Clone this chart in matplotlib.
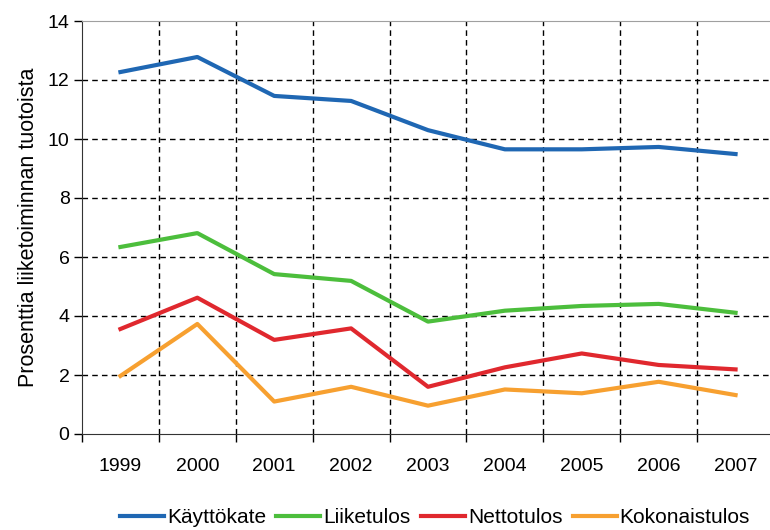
import matplotlib.pyplot as plt
import numpy as np

plt.rcParams['font.family'] = ['Liberation Sans', 'DejaVu Sans']

years = ['1999', '2000', '2001', '2002', '2003', '2004', '2005', '2006', '2007']
kayttokate = [12.27, 12.78, 11.46, 11.29, 10.30, 9.65, 9.65, 9.73, 9.49]
liiketulos = [6.34, 6.81, 5.42, 5.19, 3.81, 4.18, 4.34, 4.41, 4.11]
nettotulos = [3.56, 4.62, 3.19, 3.58, 1.60, 2.26, 2.73, 2.34, 2.19]
kokonaistulos = [1.97, 3.73, 1.10, 1.60, 0.96, 1.51, 1.38, 1.77, 1.32]

names = ['Käyttökate', 'Liiketulos', 'Nettotulos', 'Kokonaistulos']
colors = ['#1f67b3', '#4cbe3c', '#e0282e', '#f7a030']

fig = plt.figure(figsize=(7.7, 5.3), dpi=100)
ax = fig.add_axes([82/770, 1-434/530, 692/770, 413/530])

x = np.arange(len(years))
for vals, name, c in zip([kayttokate, liiketulos, nettotulos, kokonaistulos], names, colors):
    ax.plot(x, vals, color=c, lw=3, label=name, solid_joinstyle='round')

ax.set_xlim(-0.5, 8.5)
ax.set_ylim(0, 14)
ax.set_yticks(range(0, 15, 2))
ax.set_xticks(x)
ax.set_xticklabels(years)
ax.set_xticks(np.arange(-0.5, 9, 1), minor=True)

ax.tick_params(axis='x', which='major', length=0, pad=17, labelsize=14)
ax.tick_params(axis='x', which='minor', length=6, direction='out', width=1)
ax.tick_params(axis='y', length=6, direction='out', width=1, labelsize=14, pad=3)

# dashed grid between categories
for b in np.arange(0.5, 8, 1):
    ax.axvline(b, color='black', lw=1, ls=(0, (4, 3)), zorder=0)
for yv in range(2, 14, 2):
    ax.axhline(yv, color='black', lw=1, ls=(0, (4, 3)), zorder=0)

ax.spines['right'].set_visible(False)
ax.spines['top'].set_color('#a0a0a0')
ax.spines['left'].set_color('#333333')
ax.spines['bottom'].set_color('#333333')

ax.set_ylabel('Prosenttia liiketoiminnan tuotoista', fontsize=15.5, labelpad=6)

fig.legend(loc='lower center', bbox_to_anchor=(0.565, -0.03), ncol=4, frameon=False,
           fontsize=15, handlelength=2.1, handletextpad=0.15, columnspacing=0.5)

fig.savefig('out.png', dpi=100)
